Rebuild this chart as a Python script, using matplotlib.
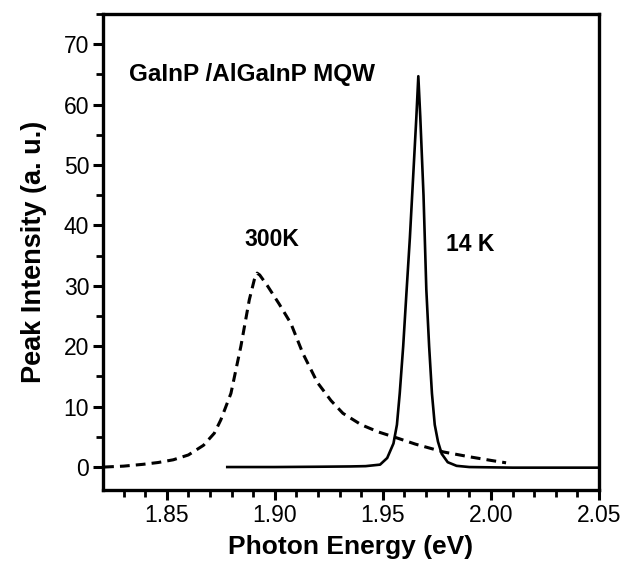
import matplotlib
matplotlib.use("Agg")
import matplotlib.pyplot as plt
from matplotlib.ticker import MultipleLocator

plt.rcParams['font.family'] = ['Liberation Sans', 'DejaVu Sans']

# 300 K spectrum (dashed)
e300 = [1.821, 1.830, 1.839, 1.846, 1.853, 1.860, 1.867, 1.872, 1.875, 1.8797, 1.8843,
        1.8882, 1.8905, 1.8918, 1.893, 1.8966, 1.902, 1.9074, 1.913, 1.9197, 1.926, 1.9315,
        1.940, 1.948, 1.955, 1.965, 1.978, 1.990, 2.000, 2.007]
i300 = [0.0, 0.15, 0.45, 0.75, 1.2, 2.0, 3.6, 5.6, 7.8, 12.2, 20.0,
        27.7, 31.0, 32.1, 31.8, 30.0, 27.0, 23.8, 18.8, 14.0, 11.0, 8.9,
        7.0, 5.8, 5.0, 3.8, 2.5, 1.7, 1.1, 0.7]

# 14 K spectrum (solid)
e14 = [1.878, 1.900, 1.920, 1.935, 1.942, 1.9487, 1.952, 1.9549, 1.9565, 1.9578, 1.9594,
       1.9609, 1.9625, 1.9640, 1.9655, 1.9664, 1.9673, 1.9688, 1.9701, 1.9714, 1.9727,
       1.9740, 1.9755, 1.9772, 1.9800, 1.9841, 1.990, 2.010, 2.030, 2.050]
i14 = [0.0, 0.0, 0.05, 0.1, 0.15, 0.4, 1.5, 3.9, 7.0, 12.2, 20.0,
       28.8, 38.0, 48.0, 58.0, 64.7, 58.0, 45.0, 29.4, 20.0, 12.2,
       7.0, 4.2, 2.2, 0.8, 0.2, 0.0, -0.1, -0.1, -0.1]

x_ticks = [1.85, 1.90, 1.95, 2.00, 2.05]
y_ticks = [0, 10, 20, 30, 40, 50, 60, 70]

fig = plt.figure(figsize=(6.32, 5.67), dpi=100)
ax = fig.add_axes([103/632, 1 - 490/567, (599-103)/632, (490-14)/567])

ax.plot(e300, i300, color='black', lw=2.2, linestyle=(0, (3.2, 2.0)))
ax.plot(e14, i14, color='black', lw=1.9)

ax.set_xlim(1.8205, 2.05)
ax.set_ylim(-3.8, 75)
ax.set_xticks(x_ticks)
ax.set_xticklabels([f"{v:.2f}" for v in x_ticks])
ax.set_yticks(y_ticks)
ax.xaxis.set_minor_locator(MultipleLocator(0.01))
ax.yaxis.set_minor_locator(MultipleLocator(5))

for s in ax.spines.values():
    s.set_linewidth(2.4)
ax.tick_params(which='major', direction='out', length=7, width=2.2, labelsize=16.5, pad=3)
ax.tick_params(which='minor', direction='out', length=5, width=2.0)

ax.set_xlabel("Photon Energy (eV)", fontsize=19, fontweight='bold', labelpad=6)
ax.set_ylabel("Peak Intensity (a. u.)", fontsize=19.5, fontweight='bold', labelpad=12)

ax.text(1.8325, 65, "GaInP /AlGaInP MQW", fontsize=17.5, fontweight='bold', va='center', ha='left')
ax.text(1.886, 37.6, "300K", fontsize=16.5, fontweight='bold', va='center', ha='left')
ax.text(1.979, 36.8, "14 K", fontsize=16.5, fontweight='bold', va='center', ha='left')

fig.savefig("out.png", dpi=100)
